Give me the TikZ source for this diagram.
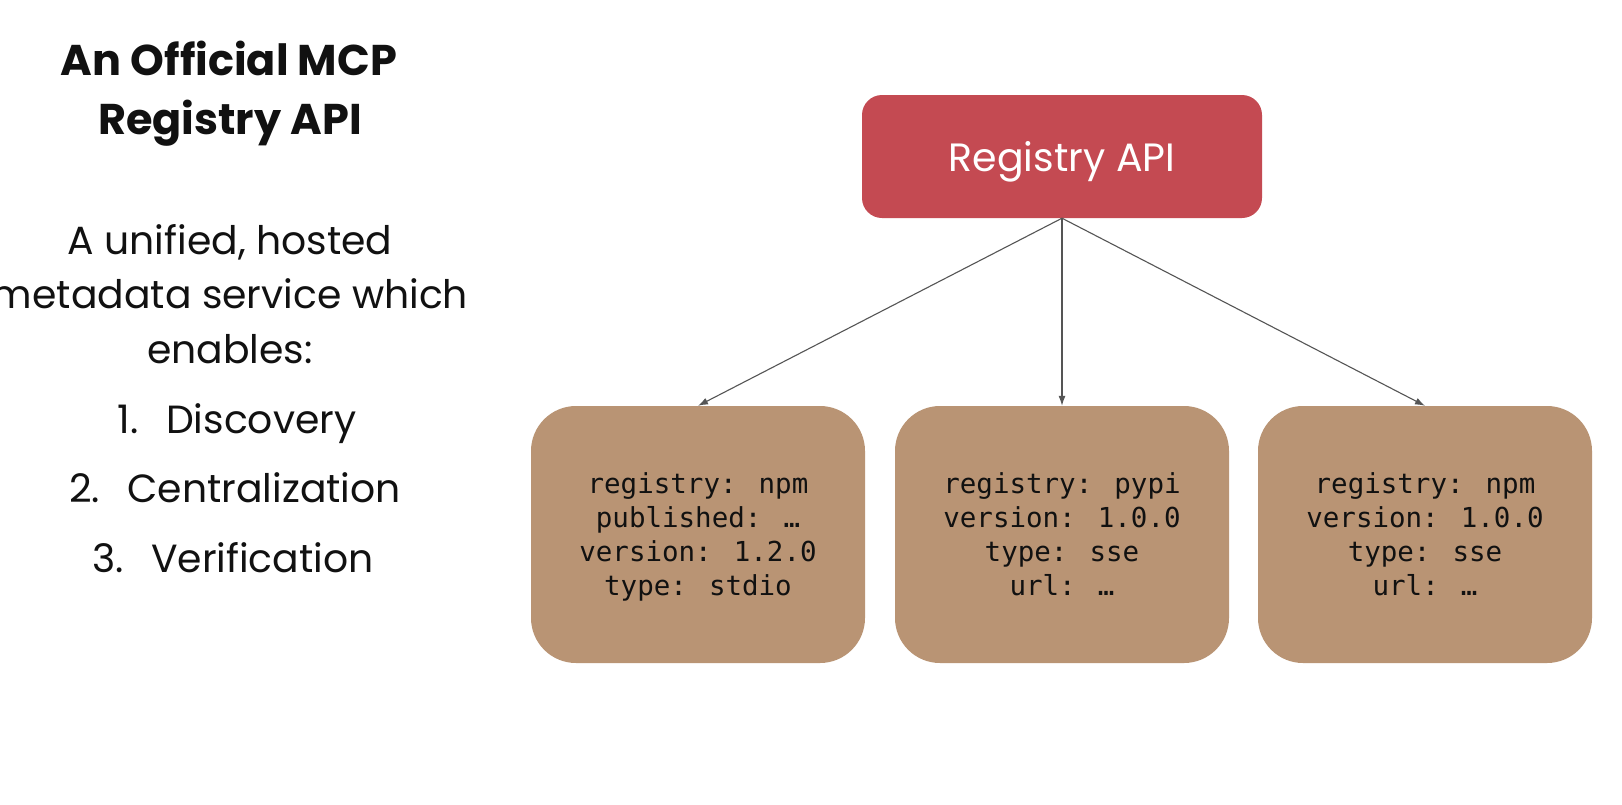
\documentclass[tikz,border=0pt]{standalone}
\usepackage{fontspec}
\setmainfont{Poppins}
\newfontfamily\codefont{DejaVu Sans Mono}
\usetikzlibrary{arrows.meta}
\definecolor{apired}{HTML}{C44A52}
\definecolor{pkgbrown}{HTML}{B99474}
\definecolor{linkgray}{HTML}{555555}
\definecolor{inkblack}{HTML}{111111}
\begin{document}
\begin{tikzpicture}[x=1pt,y=-1pt,
  apibox/.style={fill=apired, rounded corners=20pt, minimum width=400pt,
    minimum height=123pt, text=white, text depth=0pt,
    font=\fontsize{39.5}{44}\selectfont},
  pkgbox/.style={fill=pkgbrown, rounded corners=45pt, minimum width=334pt,
    minimum height=257pt, align=center, text=inkblack, text depth=0pt,
    font=\codefont\fontsize{27.5}{34}\selectfont},
  link/.style={draw=linkgray, line width=1.1pt,
    -{Latex[length=10pt,width=7pt]}},
  titleline/.style={anchor=base, text=inkblack, font=\bfseries\fontsize{43}{48}\selectfont},
  bodyline/.style={anchor=base, text=inkblack, font=\fontsize{39.3}{44}\selectfont}
]
\useasboundingbox[fill=white] (0,0) rectangle (1622,804);

% heading and description on the left
\node[titleline] (t1) at (229,75) {An Official MCP};
\node[titleline] (t2) at (230,134) {Registry API};
\node[bodyline] (d1) at (230,254) {A unified, hosted};
\node[bodyline] (d2) at (230,308.5) {metadata service which};
\node[bodyline] (d3) at (230,363) {enables:};
\node[bodyline] (l1) at (237,433) {1.\hspace{0.7em}Discovery};
\node[bodyline] (l2) at (235,502) {2.\hspace{0.7em}Centralization};
\node[bodyline] (l3) at (233,572) {3.\hspace{0.7em}Verification};

% registry service and its package entries
\node[apibox] (api) at (1062,156.5) {Registry API};
\node[pkgbox] (p1) at (698,534.5) {registry: npm\\published: …\\version: 1.2.0\\type: stdio};
\node[pkgbox] (p2) at (1062,534.5) {registry: pypi\\version: 1.0.0\\type: sse\\url: …};
\node[pkgbox] (p3) at (1425,534.5) {registry: npm\\version: 1.0.0\\type: sse\\url: …};

\draw[link] (api.south) -- (p1.north);
\draw[link] (api.south) -- (p2.north);
\draw[link] (api.south) -- (p3.north);
\end{tikzpicture}
\end{document}
